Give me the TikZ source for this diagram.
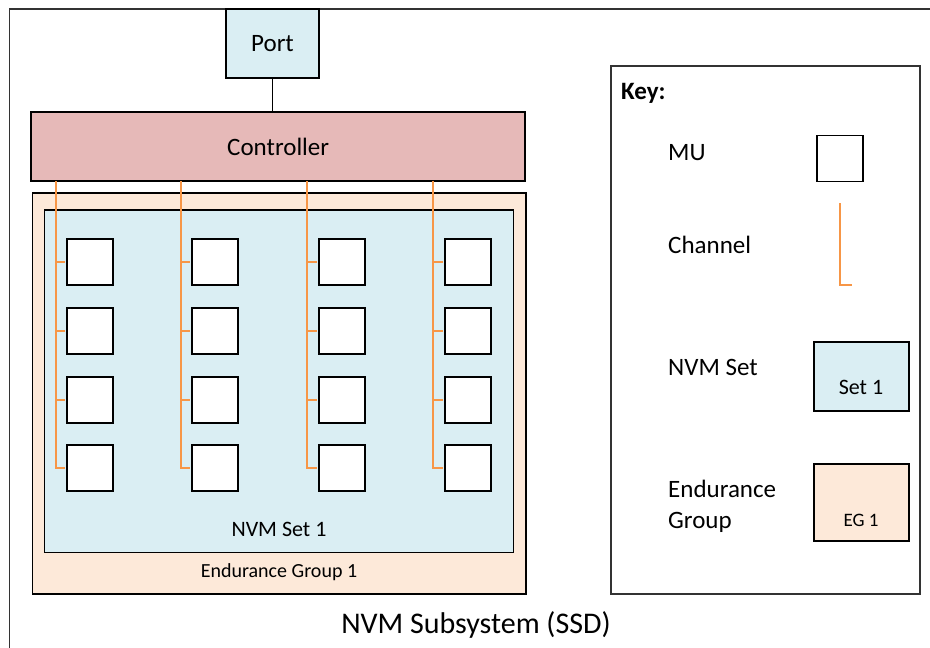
\documentclass[tikz,border=0pt]{standalone}
\usepackage{fontspec}
\setmainfont{Carlito}

\definecolor{portblue}{HTML}{DAEEF3}
\definecolor{ctrlred}{HTML}{E6B9B8}
\definecolor{egpeach}{HTML}{FDE9D9}
\definecolor{chorange}{HTML}{F79646}

\tikzset{
  box/.style={draw=black, line width=1.5pt, inner sep=0pt},
  mubox/.style={box, fill=white, minimum width=46pt, minimum height=46pt},
  channel/.style={draw=chorange, line width=2pt},
  lbl/.style={font=\fontsize{25}{31}\selectfont},
  keylbl/.style={lbl, anchor=west, inner sep=0pt},
}

\begin{document}
\begin{tikzpicture}[x=1pt,y=-1pt]
\useasboundingbox (0,0) rectangle (930,648);
\fill[white] (0,0) rectangle (930,648);

% SSD frame
\draw[line width=1.3pt, black!80] (930,9) -- (9.6,9) -- (9.6,648);
\node[font=\fontsize{30}{34}\selectfont] (ssd) at (476,625) {NVM Subsystem (SSD)};

% Port and controller
\node[box, fill=portblue, minimum width=93pt, minimum height=69pt, lbl] (port) at (272.5,43.5) {Port};
\node[box, fill=ctrlred, minimum width=494pt, minimum height=69pt, lbl] (ctrl) at (278.2,146.5) {Controller};
\draw[line width=0.8pt] (port.south) -- (port.south |- ctrl.north);

% Endurance group and NVM set
\node[box, fill=egpeach, minimum width=493.5pt, minimum height=401pt] (eg) at (279.25,393.5) {};
\node[box, fill=portblue, minimum width=469pt, minimum height=342.7pt] (set) at (279.1,381.35) {};
\node[font=\fontsize{22}{26}\selectfont] (settxt) at (279,529) {NVM Set 1};
\node[font=\fontsize{20}{24}\selectfont] (egtxt) at (279,572) {Endurance Group 1};

% Channels and MUs
\foreach \c/\x in {1/89.9, 2/214.9, 3/341.8, 4/467.8} {
  \coordinate (ch\c) at ({\x-34.4},181);
  \foreach \r/\y in {1/262, 2/331, 3/400, 4/468}
    \node[mubox] (mu\c\r) at (\x,\y) {};
  \draw[channel, shorten >=0.75pt] (ch\c) |- (mu\c4.west);
  \foreach \r in {1,2,3}
    \draw[channel, shorten >=0.75pt] (ch\c |- mu\c\r.west) -- (mu\c\r.west);
}

% Key
\node[draw=black!80, line width=1.3pt, minimum width=309pt, minimum height=528pt, inner sep=0pt] (key) at (765.5,330) {};
\node[keylbl, font=\bfseries\fontsize{25}{31}\selectfont] (keyttl) at (621,93) {Key:};
\node[keylbl] (kmu) at (668,153) {MU};
\node[mubox] (kmubox) at (840,158.5) {};
\node[keylbl] (kch) at (668,245) {Channel};
\coordinate (kchtop) at (840,203);
\coordinate (kchend) at (852,285);
\draw[channel] (kchtop) |- (kchend);
\node[keylbl] (kset) at (668,367) {NVM Set};
\node[box, fill=portblue, minimum width=95pt, minimum height=69pt] (ksetbox) at (861.5,376.5) {};
\node[font=\fontsize{22}{26}\selectfont] (ksettxt) at (861,387) {Set 1};
\node[keylbl, align=left] (keg) at (668,506.5) {Endurance\\Group};
\node[box, fill=egpeach, minimum width=95pt, minimum height=77pt] (kegbox) at (861.5,502.5) {};
\node[font=\fontsize{19}{23}\selectfont] (kegtxt) at (861,520) {EG 1};
\end{tikzpicture}
\end{document}
